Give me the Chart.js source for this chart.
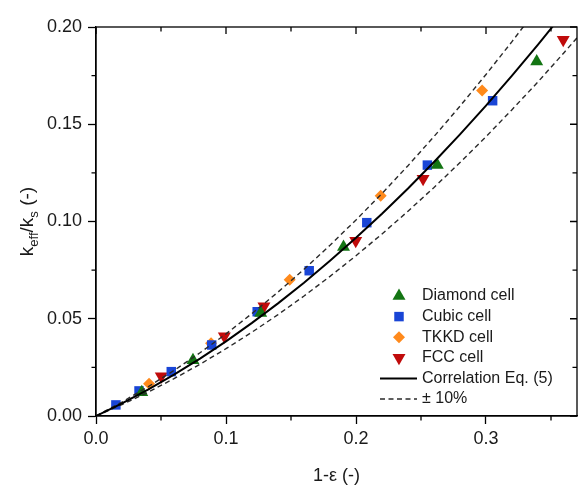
<!DOCTYPE html>
<html>
<head>
<meta charset="utf-8">
<script src="https://cdn.jsdelivr.net/npm/chart.js@4"></script>
<style>
  html, body { margin: 0; padding: 0; background: #fff; }
</style>
</head>
<body>
<canvas id="myChart" width="579" height="488"></canvas>
<script>
// Chart data
const xTicks = [0, 0.1, 0.2, 0.3];
const yTicks = [0, 0.05, 0.1, 0.15, 0.2];
const xMinor = [0.05, 0.15, 0.25, 0.35];
const yMinor = [0.025, 0.075, 0.125, 0.175];

const names = ["Diamond cell", "Cubic cell", "TKKD cell", "FCC cell", "Correlation Eq. (5)", "\u00B1 10%"];

const diamondX = [0.0352, 0.0746, 0.1267, 0.1904, 0.2625, 0.339];
const diamondY = [0.0122, 0.0287, 0.0530, 0.0869, 0.1290, 0.1822];

const cubicX = [0.0153, 0.0331, 0.0579, 0.089, 0.124, 0.164, 0.2083, 0.2549, 0.3051];
const cubicY = [0.0057, 0.0129, 0.0228, 0.0365, 0.0536, 0.0747, 0.0994, 0.129, 0.1621];

const tkkdX = [0.0408, 0.0885, 0.149, 0.219, 0.297];
const tkkdY = [0.0166, 0.0374, 0.0700, 0.1132, 0.1673];

const fccX = [0.0502, 0.0987, 0.1292, 0.1998, 0.2516, 0.3594];
const fccY = [0.0204, 0.0410, 0.0564, 0.0901, 0.1220, 0.1935];

// correlation curve and the +/-10% band
const corrX = [0, 0.02, 0.04, 0.06, 0.08, 0.10, 0.12, 0.14, 0.16, 0.18, 0.20, 0.22, 0.24, 0.26, 0.28, 0.30, 0.32, 0.34, 0.36, 0.37];
const corrY = [0, 0.0065, 0.0136, 0.0213, 0.0295, 0.0384, 0.0479, 0.0579, 0.0685, 0.0798, 0.0916, 0.1040, 0.1170, 0.1306, 0.1448, 0.1596, 0.1750, 0.1909, 0.2075, 0.2160];
const upperY = [0, 0.0072, 0.0150, 0.0234, 0.0325, 0.0422, 0.0527, 0.0637, 0.0754, 0.0878, 0.1008, 0.1144, 0.1287, 0.1437, 0.1593, 0.1756, 0.1925, 0.2100, 0.2283, 0.2376];
const lowerY = [0, 0.0059, 0.0122, 0.0192, 0.0266, 0.0346, 0.0431, 0.0521, 0.0617, 0.0718, 0.0824, 0.0936, 0.1053, 0.1175, 0.1303, 0.1436, 0.1575, 0.1718, 0.1868, 0.1944];

const green = "#137513";
const blue = "#1945d6";
const orange = "#ff8a1c";
const red = "#c00b0b";
const fam = "'Liberation Sans', Arial, sans-serif";
const textColor = "#1a1a1a";
const dashColor = "#2a2a2a";

const pts = (xs, ys) => xs.map((x, i) => ({ x: x, y: ys[i] }));

function marker(ctx, style, x, y, r, color) {
    ctx.fillStyle = color;
    ctx.beginPath();
    if (style == "rect") {
        const s = r * Math.SQRT1_2;
        ctx.rect(x - s, y - s, 2 * s, 2 * s);
    } else if (style == "rectRot") {
        ctx.moveTo(x, y - r); ctx.lineTo(x + r, y); ctx.lineTo(x, y + r); ctx.lineTo(x - r, y);
    } else {
        const down = style == "triangleDown" ? Math.PI : 0;
        for (let k = 0; k < 3; k++) {
            const a = down + k * 2 * Math.PI / 3;
            const px = x + Math.sin(a) * r, py = y - Math.cos(a) * r;
            if (k == 0) ctx.moveTo(px, py); else ctx.lineTo(px, py);
        }
    }
    ctx.closePath();
    ctx.fill();
}

const framePlugin = {
    id: "frameLegend",
    afterDraw(chart) {
        const { ctx, chartArea: a, scales } = chart;
        const x = scales.x, y = scales.y;
        ctx.save();
        // box and extra ticks
        ctx.strokeStyle = "#000";
        ctx.lineWidth = 1.3;
        ctx.strokeRect(a.left, a.top, a.right - a.left, a.bottom - a.top);
        ctx.beginPath();
        xMinor.forEach(v => {
            const p = x.getPixelForValue(v);
            ctx.moveTo(p, a.bottom); ctx.lineTo(p, a.bottom + 4.5);
            ctx.moveTo(p, a.top); ctx.lineTo(p, a.top + 4.5);
        });
        xTicks.forEach(v => {
            const p = x.getPixelForValue(v);
            ctx.moveTo(p, a.top); ctx.lineTo(p, a.top + 7);
        });
        yMinor.forEach(v => {
            const p = y.getPixelForValue(v);
            ctx.moveTo(a.left - 4.5, p); ctx.lineTo(a.left, p);
            ctx.moveTo(a.right, p); ctx.lineTo(a.right - 4.5, p);
        });
        yTicks.forEach(v => {
            const p = y.getPixelForValue(v);
            ctx.moveTo(a.right, p); ctx.lineTo(a.right - 7, p);
        });
        ctx.stroke();

        // y axis title with subscripts
        ctx.save();
        ctx.translate(33, (a.top + a.bottom) / 2);
        ctx.rotate(-Math.PI / 2);
        ctx.fillStyle = textColor;
        ctx.textBaseline = "alphabetic";
        const parts = [["k", 19, 0], ["eff", 13, 5], ["/k", 19, 0], ["s", 13, 5], [" (-)", 19, 0]];
        let total = 0;
        parts.forEach(p => { ctx.font = p[1] + "px " + fam; total += ctx.measureText(p[0]).width; });
        let cx = -total / 2;
        parts.forEach(p => {
            ctx.font = p[1] + "px " + fam;
            ctx.fillText(p[0], cx, p[2]);
            cx += ctx.measureText(p[0]).width;
        });
        ctx.restore();

        // legend
        const mx = a.right - 178, tx = a.right - 155, y0 = a.bottom - 120, dy = 20.6;
        const styles = [["triangle", 7.5, green], ["rect", 6.7, blue], ["rectRot", 6, orange], ["triangleDown", 7.5, red]];
        styles.forEach((s, i) => marker(ctx, s[0], mx, y0 + i * dy, s[1], s[2]));
        ctx.strokeStyle = "#000";
        ctx.lineWidth = 2;
        ctx.beginPath();
        ctx.moveTo(a.right - 197, y0 + 4 * dy); ctx.lineTo(a.right - 160, y0 + 4 * dy);
        ctx.stroke();
        ctx.strokeStyle = dashColor;
        ctx.lineWidth = 1.4;
        ctx.setLineDash([5, 3.5]);
        ctx.beginPath();
        ctx.moveTo(a.right - 197, y0 + 5 * dy); ctx.lineTo(a.right - 160, y0 + 5 * dy);
        ctx.stroke();
        ctx.setLineDash([]);
        ctx.font = "16px " + fam;
        ctx.fillStyle = textColor;
        ctx.textBaseline = "middle";
        names.forEach((n, i) => ctx.fillText(n, tx, y0 + i * dy));
        ctx.restore();
    }
};

const ctx = document.getElementById("myChart").getContext("2d");

const myChart = new Chart(ctx, {
    type: "scatter",
    data: {
        datasets: [
            {
                label: names[4],
                data: pts(corrX, corrY),
                showLine: true,
                borderColor: "#000",
                borderWidth: 2,
                pointRadius: 0,
            },
            {
                label: names[5],
                data: pts(corrX, upperY),
                showLine: true,
                borderColor: dashColor,
                borderWidth: 1.4,
                borderDash: [5, 3.5],
                pointRadius: 0,
            },
            {
                label: names[5] + " low",
                data: pts(corrX, lowerY),
                showLine: true,
                borderColor: dashColor,
                borderWidth: 1.4,
                borderDash: [5, 3.5],
                pointRadius: 0,
            },
            {
                label: names[0],
                data: pts(diamondX, diamondY),
                pointStyle: "triangle",
                pointRadius: 7.5,
                backgroundColor: green,
                borderColor: green,
                borderWidth: 0,
            },
            {
                label: names[1],
                data: pts(cubicX, cubicY),
                pointStyle: "rect",
                pointRadius: 6.7,
                backgroundColor: blue,
                borderColor: blue,
                borderWidth: 0,
            },
            {
                label: names[2],
                data: pts(tkkdX, tkkdY),
                pointStyle: "rectRot",
                pointRadius: 6,
                backgroundColor: orange,
                borderColor: orange,
                borderWidth: 0,
            },
            {
                label: names[3],
                data: pts(fccX, fccY),
                pointStyle: "triangle",
                rotation: 180,
                pointRadius: 7.5,
                backgroundColor: red,
                borderColor: red,
                borderWidth: 0,
            },
        ]
    },
    options: {
        responsive: false,
        animation: false,
        layout: { autoPadding: false, padding: { top: 27, right: 2, left: 0, bottom: 0 } },
        plugins: {
            legend: { display: false },
            tooltip: { enabled: false },
        },
        scales: {
            x: {
                type: "linear",
                min: 0,
                max: 0.37,
                afterBuildTicks: s => { s.ticks = xTicks.map(v => ({ value: v })); },
                afterFit: s => { s.height = 72; s.paddingLeft = 0; s.paddingRight = 0; },
                ticks: {
                    callback: v => v.toFixed(1),
                    color: textColor,
                    padding: 4,
                    maxRotation: 0,
                    font: { family: fam, size: 18 },
                },
                grid: {
                    display: true,
                    drawOnChartArea: false,
                    drawTicks: true,
                    tickLength: 8,
                    tickColor: "#000",
                    tickWidth: 1.3,
                },
                border: { display: true, color: "#000", width: 1.3 },
                title: {
                    display: true,
                    text: "1-\u03B5 (-)",
                    color: textColor,
                    font: { family: fam, size: 18 },
                    padding: { top: 4, bottom: 1 },
                },
            },
            y: {
                type: "linear",
                min: 0,
                max: 0.2,
                afterBuildTicks: s => { s.ticks = yTicks.map(v => ({ value: v })); },
                afterFit: s => { s.width = 96; s.paddingTop = 0; s.paddingBottom = 0; },
                ticks: {
                    callback: v => v.toFixed(2),
                    color: textColor,
                    padding: 6,
                    font: { family: fam, size: 18 },
                },
                grid: {
                    display: true,
                    drawOnChartArea: false,
                    drawTicks: true,
                    tickLength: 8,
                    tickColor: "#000",
                    tickWidth: 1.3,
                },
                border: { display: true, color: "#000", width: 1.3 },
                title: { display: false },
            },
        },
    },
    plugins: [framePlugin],
});
</script>
</body>
</html>
